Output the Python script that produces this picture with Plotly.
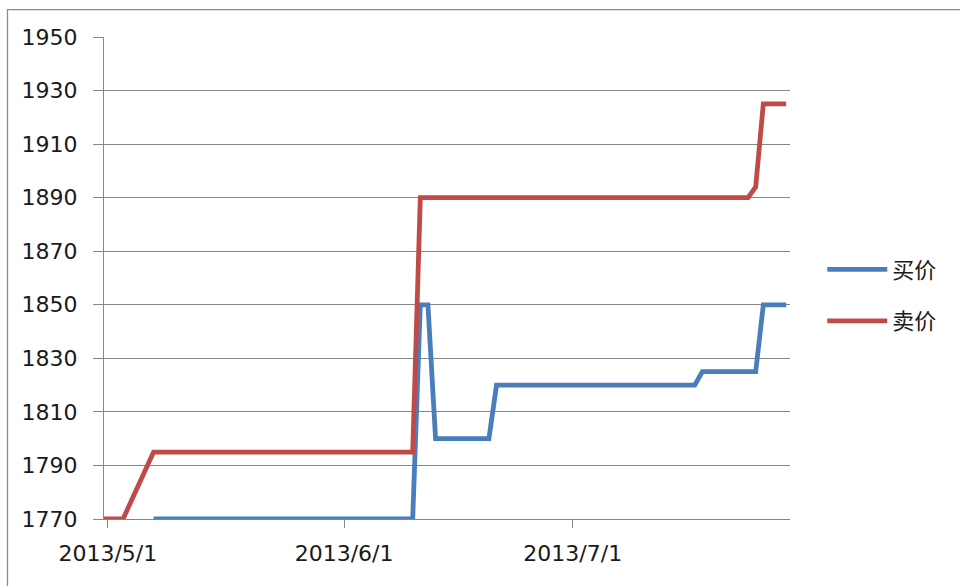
import plotly.graph_objects as go

# ---- data ----
buy_dates = ["2013-05-07", "2013-06-10", "2013-06-11", "2013-06-12", "2013-06-13",
             "2013-06-20", "2013-06-21", "2013-07-17", "2013-07-18", "2013-07-25",
             "2013-07-26", "2013-07-29"]
buy_values = [1770, 1770, 1850, 1850, 1800, 1800, 1820, 1820, 1825, 1825, 1850, 1850]

sell_dates = ["2013-04-30", "2013-05-03", "2013-05-07", "2013-06-10", "2013-06-11",
              "2013-07-24", "2013-07-25", "2013-07-26", "2013-07-29"]
sell_values = [1770, 1770, 1795, 1795, 1890, 1890, 1894, 1925, 1925]

series_names = ["买价", "卖价"]
tick_dates = ["2013-05-01", "2013-06-01", "2013-07-01"]
tick_labels = ["2013/5/1", "2013/6/1", "2013/7/1"]
y_min, y_max, y_step = 1770, 1950, 20

BLUE = "#4a7ebb"
RED = "#be4b48"
GRID = "#868686"
TEXT = "#1a1a1a"

fig = go.Figure()
fig.add_trace(go.Scatter(x=buy_dates, y=buy_values, mode="lines", name=series_names[0],
                         legendgroup="a", line=dict(color=BLUE, width=4.8)))
fig.add_trace(go.Scatter(x=sell_dates, y=sell_values, mode="lines", name=series_names[1],
                         legendgroup="b", line=dict(color=RED, width=4.8)))

fig.update_layout(
    width=960, height=586,
    margin=dict(l=104, r=170, t=37, b=67),
    paper_bgcolor="white", plot_bgcolor="white",
    font=dict(family="Verdana, DejaVu Sans, sans-serif", size=22, color=TEXT),
    showlegend=True,
    legend=dict(x=1.047, y=0.4637, xanchor="left", yanchor="middle",
                font=dict(family="Noto Sans CJK SC", size=22, color=TEXT),
                tracegroupgap=20, itemwidth=60, bgcolor="rgba(0,0,0,0)"),
    xaxis=dict(type="date", range=["2013-04-30 12:00", "2013-07-29 12:00"],
               tickvals=tick_dates, ticktext=tick_labels,
               ticks="outside", ticklen=8, tickwidth=1.3, tickcolor=GRID,
               showline=True, linecolor=GRID, linewidth=1.3,
               showgrid=False, zeroline=False, ticklabelstandoff=6),
    yaxis=dict(range=[y_min, y_max], dtick=y_step, tick0=y_min,
               ticks="outside", ticklen=10, tickwidth=1.3, tickcolor=GRID,
               showline=True, linecolor=GRID, linewidth=1.3,
               showgrid=True, gridcolor=GRID, gridwidth=1.3,
               zeroline=False, ticklabelstandoff=11),
    shapes=[dict(type="rect", xref="paper", yref="paper",
                 x0=-0.1407, x1=1.4, y0=-0.3, y1=1.057,
                 line=dict(color="#8c8c8c", width=1.3), layer="below")],
)

fig.write_html("out.html", config={"displayModeBar": False},
               post_script="document.body.style.margin='0';")
